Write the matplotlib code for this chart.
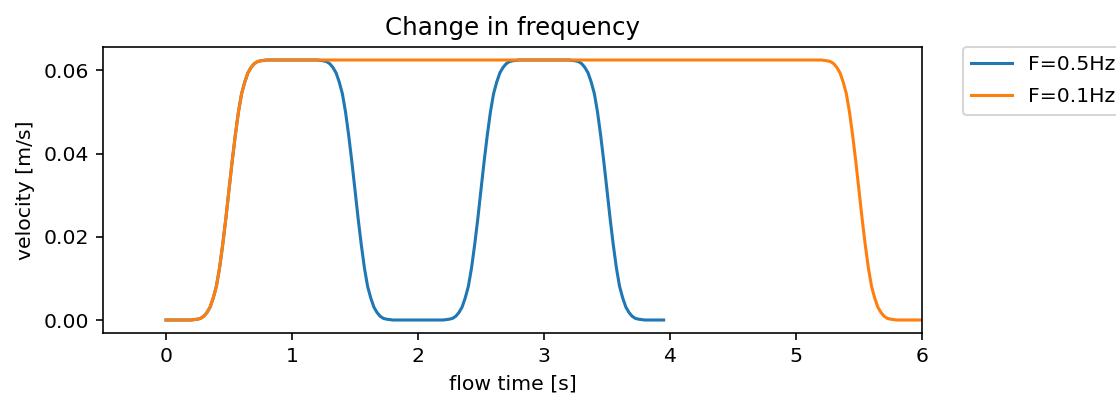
import numpy as np
import matplotlib
matplotlib.use("Agg")
import matplotlib.pyplot as plt

# F = 0.5 Hz
t_05 = [0.000, 0.100,
        0.200, 0.225, 0.250, 0.275, 0.300, 0.325, 0.350, 0.375, 0.400, 0.425, 0.450, 0.475, 0.500,
        0.525, 0.550, 0.575, 0.600, 0.625, 0.650, 0.675, 0.700, 0.725, 0.750, 0.775, 0.800,
        1.000,
        1.200, 1.225, 1.250, 1.275, 1.300, 1.325, 1.350, 1.375, 1.400, 1.425, 1.450, 1.475, 1.500,
        1.525, 1.550, 1.575, 1.600, 1.625, 1.650, 1.675, 1.700, 1.725, 1.750, 1.775, 1.800,
        2.000,
        2.200, 2.225, 2.250, 2.275, 2.300, 2.325, 2.350, 2.375, 2.400, 2.425, 2.450, 2.475, 2.500,
        2.525, 2.550, 2.575, 2.600, 2.625, 2.650, 2.675, 2.700, 2.725, 2.750, 2.775, 2.800,
        3.000,
        3.200, 3.225, 3.250, 3.275, 3.300, 3.325, 3.350, 3.375, 3.400, 3.425, 3.450, 3.475, 3.500,
        3.525, 3.550, 3.575, 3.600, 3.625, 3.650, 3.675, 3.700, 3.725, 3.750, 3.775, 3.800,
        3.950]
v_05 = [0.0000, 0.0000,
        0.0000, 0.0001, 0.0002, 0.0004, 0.0009, 0.0018, 0.0031, 0.0053, 0.0081, 0.0125, 0.0181, 0.0244, 0.0313,
        0.0381, 0.0444, 0.0500, 0.0544, 0.0572, 0.0594, 0.0607, 0.0616, 0.0621, 0.0623, 0.0624, 0.0625,
        0.0625,
        0.0625, 0.0624, 0.0623, 0.0621, 0.0616, 0.0607, 0.0594, 0.0572, 0.0544, 0.0500, 0.0444, 0.0381, 0.0313,
        0.0244, 0.0181, 0.0125, 0.0081, 0.0053, 0.0031, 0.0018, 0.0009, 0.0004, 0.0002, 0.0001, 0.0000,
        0.0000,
        0.0000, 0.0001, 0.0002, 0.0004, 0.0009, 0.0018, 0.0031, 0.0053, 0.0081, 0.0125, 0.0181, 0.0244, 0.0313,
        0.0381, 0.0444, 0.0500, 0.0544, 0.0572, 0.0594, 0.0607, 0.0616, 0.0621, 0.0623, 0.0624, 0.0625,
        0.0625,
        0.0625, 0.0624, 0.0623, 0.0621, 0.0616, 0.0607, 0.0594, 0.0572, 0.0544, 0.0500, 0.0444, 0.0381, 0.0313,
        0.0244, 0.0181, 0.0125, 0.0081, 0.0053, 0.0031, 0.0018, 0.0009, 0.0004, 0.0002, 0.0001, 0.0000,
        0.0000]

# F = 0.1 Hz
t_01 = [0.000, 0.100,
        0.200, 0.225, 0.250, 0.275, 0.300, 0.325, 0.350, 0.375, 0.400, 0.425, 0.450, 0.475, 0.500,
        0.525, 0.550, 0.575, 0.600, 0.625, 0.650, 0.675, 0.700, 0.725, 0.750, 0.775, 0.800,
        2.000, 3.000, 4.000,
        5.200, 5.225, 5.250, 5.275, 5.300, 5.325, 5.350, 5.375, 5.400, 5.425, 5.450, 5.475, 5.500,
        5.525, 5.550, 5.575, 5.600, 5.625, 5.650, 5.675, 5.700, 5.725, 5.750, 5.775, 5.800,
        6.000, 6.500]
v_01 = [0.0000, 0.0000,
        0.0000, 0.0001, 0.0002, 0.0004, 0.0009, 0.0018, 0.0031, 0.0053, 0.0081, 0.0125, 0.0181, 0.0244, 0.0313,
        0.0381, 0.0444, 0.0500, 0.0544, 0.0572, 0.0594, 0.0607, 0.0616, 0.0621, 0.0623, 0.0624, 0.0625,
        0.0625, 0.0625, 0.0625,
        0.0625, 0.0624, 0.0623, 0.0621, 0.0616, 0.0607, 0.0594, 0.0572, 0.0544, 0.0500, 0.0444, 0.0381, 0.0313,
        0.0244, 0.0181, 0.0125, 0.0081, 0.0053, 0.0031, 0.0018, 0.0009, 0.0004, 0.0002, 0.0001, 0.0000,
        0.0000, 0.0000]

dpi = 147
fig = plt.figure(figsize=(1116 / dpi, 397 / dpi), dpi=dpi)
ax = fig.add_axes([0.0923, 0.1612, 0.7338, 0.7204])

ax.plot(t_05, v_05, label="F=0.5Hz")
ax.plot(t_01, v_01, label="F=0.1Hz")
ax.set_xlim(-0.5, 6)
ax.set_ylim(-0.003125, 0.065625)
ax.set_yticks([0.0, 0.02, 0.04, 0.06])
ax.set_title("Change in frequency")
ax.set_xlabel("flow time [s]")
ax.set_ylabel("velocity [m/s]")
ax.legend(bbox_to_anchor=(1.05, 1), loc="upper left", borderaxespad=0,
          fontsize=10, labelspacing=0.65)

fig.savefig("out.png", dpi=dpi)
